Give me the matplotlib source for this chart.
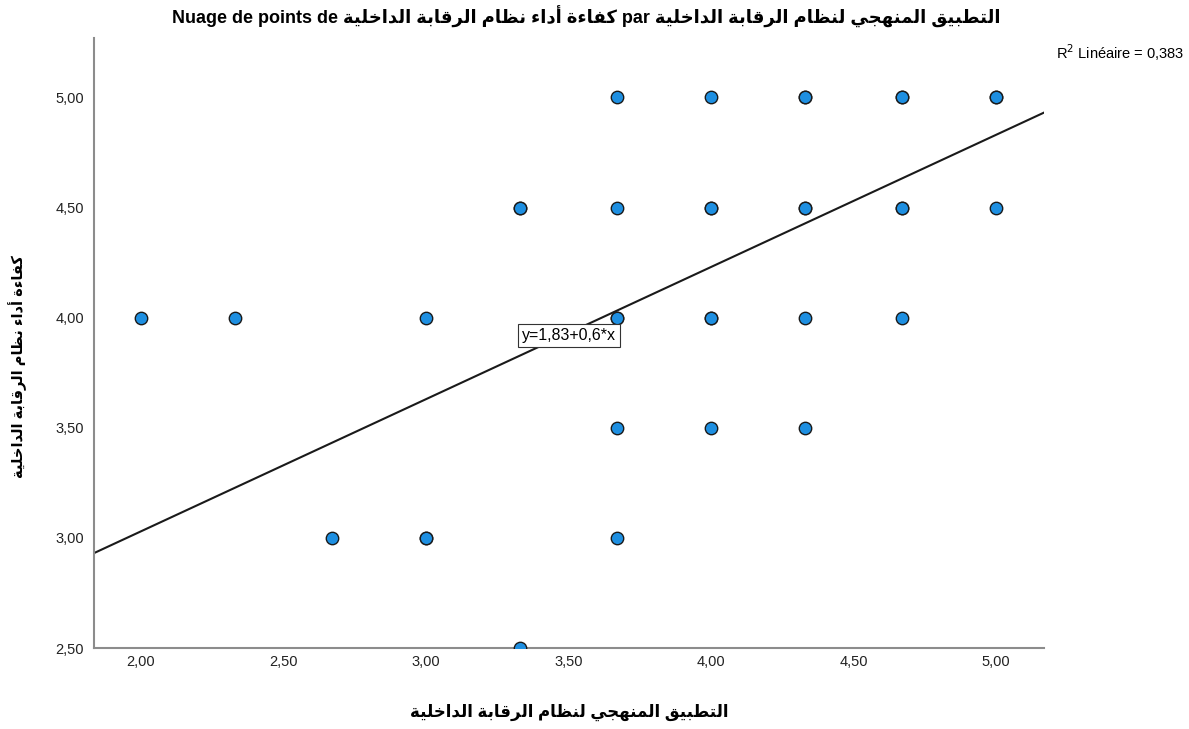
import matplotlib
matplotlib.use("Agg")
import matplotlib.pyplot as plt
from matplotlib.ticker import FixedLocator, FixedFormatter

# Scores of each respondent (x: methodical application, y: performance efficiency)
x_scores = [2.00, 2.33, 2.67, 3.00, 3.00, 3.00,
            3.33, 3.33, 3.33,
            3.67, 3.67, 3.67, 3.67, 3.67, 3.67,
            4.00, 4.00, 4.00, 4.00, 4.00, 4.00,
            4.33, 4.33, 4.33, 4.33, 4.33, 4.33,
            4.67, 4.67, 4.67, 4.67, 4.67,
            5.00, 5.00, 5.00]
y_scores = [4.00, 4.00, 3.00, 3.00, 3.00, 4.00,
            4.50, 4.50, 2.50,
            5.00, 4.50, 4.00, 4.00, 3.50, 3.00,
            5.00, 4.50, 4.50, 4.00, 4.00, 3.50,
            5.00, 5.00, 4.50, 4.50, 4.00, 3.50,
            5.00, 5.00, 4.50, 4.50, 4.00,
            5.00, 5.00, 4.50]

# Linear fit reported on the chart
intercept = 1.83
slope = 0.6
r_squared = 0.383

x_ticks = [2.0, 2.5, 3.0, 3.5, 4.0, 4.5, 5.0]
x_tick_labels = ["2,00", "2,50", "3,00", "3,50", "4,00", "4,50", "5,00"]
y_ticks = [2.5, 3.0, 3.5, 4.0, 4.5, 5.0]
y_tick_labels = ["2,50", "3,00", "3,50", "4,00", "4,50", "5,00"]

x_name = "التطبيق المنهجي لنظام الرقابة الداخلية"
y_name = "كفاءة أداء نظام الرقابة الداخلية"

# Arabic contextual forms: isolated, final, initial, medial
FORMS = {
    "\u0621": ("\uFE80", None, None, None),
    "\u0623": ("\uFE83", "\uFE84", None, None),
    "\u0627": ("\uFE8D", "\uFE8E", None, None),
    "\u0628": ("\uFE8F", "\uFE90", "\uFE91", "\uFE92"),
    "\u0629": ("\uFE93", "\uFE94", None, None),
    "\u062A": ("\uFE95", "\uFE96", "\uFE97", "\uFE98"),
    "\u062C": ("\uFE9D", "\uFE9E", "\uFE9F", "\uFEA0"),
    "\u062E": ("\uFEA5", "\uFEA6", "\uFEA7", "\uFEA8"),
    "\u062F": ("\uFEA9", "\uFEAA", None, None),
    "\u0631": ("\uFEAD", "\uFEAE", None, None),
    "\u0637": ("\uFEC1", "\uFEC2", "\uFEC3", "\uFEC4"),
    "\u0638": ("\uFEC5", "\uFEC6", "\uFEC7", "\uFEC8"),
    "\u0641": ("\uFED1", "\uFED2", "\uFED3", "\uFED4"),
    "\u0642": ("\uFED5", "\uFED6", "\uFED7", "\uFED8"),
    "\u0643": ("\uFED9", "\uFEDA", "\uFEDB", "\uFEDC"),
    "\u0644": ("\uFEDD", "\uFEDE", "\uFEDF", "\uFEE0"),
    "\u0645": ("\uFEE1", "\uFEE2", "\uFEE3", "\uFEE4"),
    "\u0646": ("\uFEE5", "\uFEE6", "\uFEE7", "\uFEE8"),
    "\u0647": ("\uFEE9", "\uFEEA", "\uFEEB", "\uFEEC"),
    "\u064A": ("\uFEF1", "\uFEF2", "\uFEF3", "\uFEF4"),
}


def dual(c):
    return c in FORMS and FORMS[c][2] is not None


def ar(text):
    """Shape Arabic letters and reverse to visual order."""
    out = []
    for i, c in enumerate(text):
        if c not in FORMS:
            out.append(c)
            continue
        prev = text[i - 1] if i > 0 else ""
        nxt = text[i + 1] if i + 1 < len(text) else ""
        join_prev = dual(prev)
        join_next = dual(c) and nxt in FORMS
        iso, fin, ini, med = FORMS[c]
        if join_prev and join_next:
            out.append(med)
        elif join_prev:
            out.append(fin)
        elif join_next:
            out.append(ini)
        else:
            out.append(iso)
    return "".join(reversed(out))


plt.rcParams["font.family"] = ["Liberation Sans", "DejaVu Sans"]

fig = plt.figure(figsize=(11.89, 7.29), dpi=100)
ax = fig.add_axes([0.079, 0.111, 0.799, 0.837])

ax.scatter(x_scores, y_scores, s=80, c="#1e8fe1", edgecolors="#1a1a1a",
           linewidths=1.0, zorder=3)

xlim = (1.835, 5.168)
ax.set_xlim(xlim)
ax.set_ylim(2.5, 5.27)

line_y = [intercept + slope * v for v in xlim]
ax.plot(xlim, line_y, color="#1a1a1a", lw=1.5, zorder=2)

ax.text(3.5, intercept + slope * 3.5 - 0.01, "y=1,83+0,6*x", ha="center", va="center",
        fontsize=11.5, zorder=4,
        bbox=dict(boxstyle="square,pad=0.25", fc="white", ec="#333333", lw=0.8))

fig.text(0.996, 0.928, r"R$^2$ Linéaire = " + f"{r_squared:.3f}".replace(".", ","),
         ha="right", va="center", fontsize=10.5)

ax.xaxis.set_major_locator(FixedLocator(x_ticks))
ax.xaxis.set_major_formatter(FixedFormatter(x_tick_labels))
ax.yaxis.set_major_locator(FixedLocator(y_ticks))
ax.yaxis.set_major_formatter(FixedFormatter(y_tick_labels))
ax.tick_params(length=0, labelsize=10.5, colors="#222222")
ax.tick_params(axis="x", pad=5)
ax.tick_params(axis="y", pad=7)

for side in ["top", "right"]:
    ax.spines[side].set_visible(False)
for side in ["left", "bottom"]:
    ax.spines[side].set_color("#8c8c8c")
    ax.spines[side].set_linewidth(1.5)

ax.set_xlabel(ar(x_name), fontsize=12, fontweight="bold", labelpad=25)
ax.set_ylabel(ar(y_name), fontsize=10.5, fontweight="bold")
ax.yaxis.set_label_coords(-0.070, 0.462)

title = "Nuage de points de " + ar(y_name) + " par " + ar(x_name)
fig.text(0.493, 0.977, title, ha="center", va="center", fontsize=13,
         fontweight="bold")

fig.savefig("out.png", dpi=100)
